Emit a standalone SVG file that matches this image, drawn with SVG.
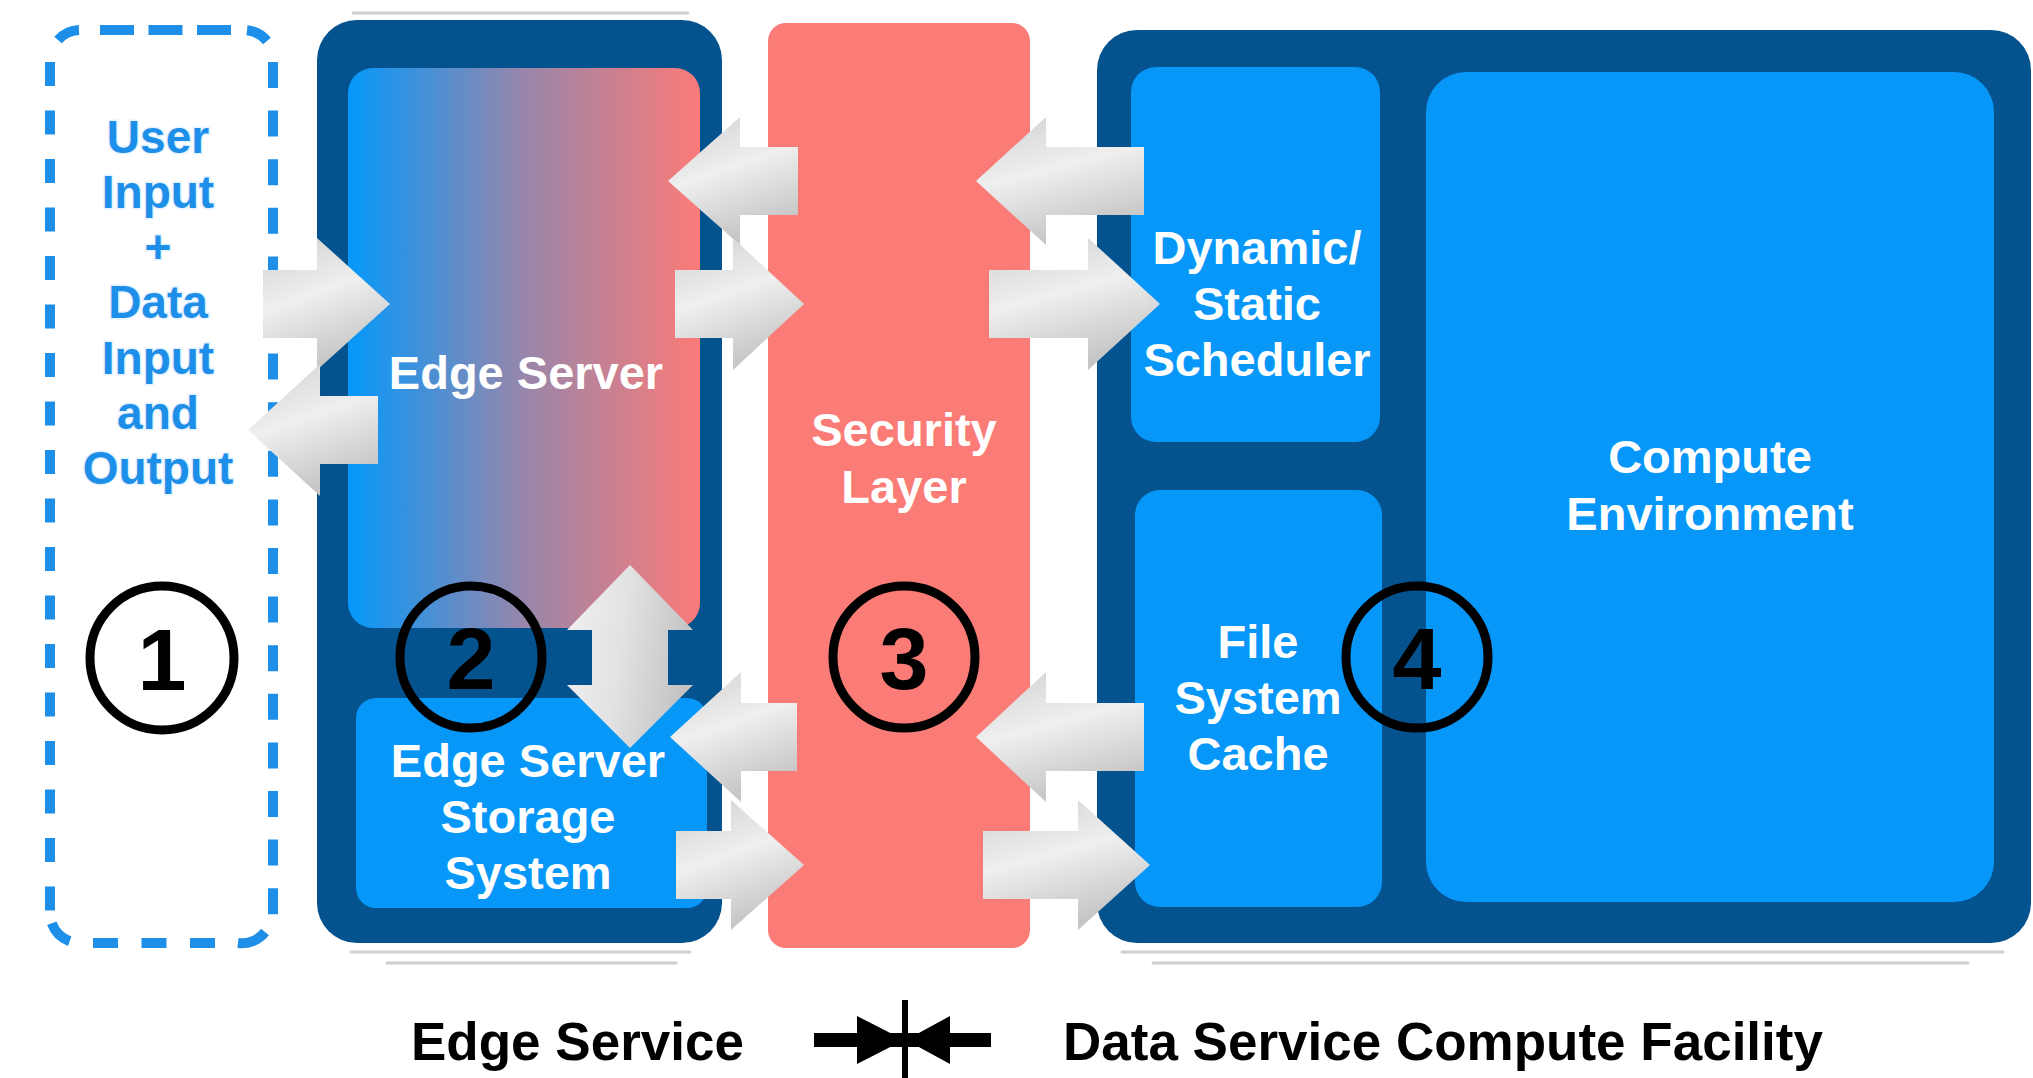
<svg xmlns="http://www.w3.org/2000/svg" width="2033" height="1078" viewBox="0 0 2033 1078">
<defs>
<linearGradient id="gEdge" x1="0" y1="0" x2="1" y2="0">
<stop offset="0" stop-color="#0598fa"/>
<stop offset="0.5" stop-color="#9886aa"/>
<stop offset="1" stop-color="#fb7b78"/>
</linearGradient>
<linearGradient id="gArrow" x1="0" y1="0" x2="0.35" y2="1">
<stop offset="0" stop-color="#d0d0d0"/>
<stop offset="0.5" stop-color="#efefef"/>
<stop offset="1" stop-color="#c6c6c6"/>
</linearGradient>
<linearGradient id="gArrowV" x1="0" y1="0" x2="1" y2="0.2">
<stop offset="0" stop-color="#f2f2f2"/>
<stop offset="0.5" stop-color="#e2e2e2"/>
<stop offset="1" stop-color="#c4c4c4"/>
</linearGradient>
<style>
.dark{fill:#04528e}
.blue{fill:#0797f8}
.wt{font-family:"Liberation Sans",Arial,sans-serif;font-weight:bold;font-size:47px;fill:#ffffff;text-anchor:middle}
.bt{font-family:"Liberation Sans",Arial,sans-serif;font-weight:bold;font-size:46px;fill:#1e8fe8;text-anchor:middle;stroke:#e6f3ff;stroke-width:3;paint-order:stroke}
.num{font-family:"Liberation Sans",Arial,sans-serif;font-weight:bold;font-size:88px;fill:#000000;text-anchor:middle}
.ring{fill:none;stroke:#000000;stroke-width:9}
.dash{fill:none;stroke:#1e8fe8;stroke-width:10}
.arrow{fill:url(#gArrow)}
.shadow{fill:none;stroke:#cfcfcf;stroke-width:3;stroke-linecap:round}
.legend{font-family:"Liberation Sans",Arial,sans-serif;font-weight:bold;font-size:53px;fill:#000000}
</style>
</defs>
<rect width="2033" height="1078" fill="#ffffff"/>

<g id="shadows">
<line class="shadow" x1="353" y1="13" x2="688" y2="13"/>
<line class="shadow" x1="351" y1="952" x2="690" y2="952"/>
<line class="shadow" x1="387" y1="963" x2="676" y2="963"/>
<line class="shadow" x1="1122" y1="952" x2="2003" y2="952"/>
<line class="shadow" x1="1153" y1="963" x2="1968" y2="963"/>
</g>

<g id="input-output">
<g>
<line class="dash" x1="100" y1="30" x2="232" y2="30" stroke-dasharray="34 14.5"/>
<line class="dash" x1="93" y1="943" x2="218" y2="943" stroke-dasharray="25 23.5"/>
<line class="dash" x1="50" y1="62" x2="50" y2="915" stroke-dasharray="24 24.5"/>
<line class="dash" x1="273" y1="62" x2="273" y2="920" stroke-dasharray="26 22.6"/>
<path class="dash" d="M58,40 A30,30 0 0 1 79,30"/>
<path class="dash" d="M247,30.3 A30,30 0 0 1 267,41"/>
<path class="dash" d="M51.8,923.3 A30,30 0 0 0 69.7,941.2"/>
<path class="dash" d="M238,943 A30,30 0 0 0 265,932"/>
</g>
<text class="bt" x="158" y="153">User</text>
<text class="bt" x="158" y="208">Input</text>
<text class="bt" x="158" y="263">+</text>
<text class="bt" x="158" y="318">Data</text>
<text class="bt" x="158" y="374">Input</text>
<text class="bt" x="158" y="429">and</text>
<text class="bt" x="158" y="484">Output</text>
</g>

<g id="edge-service">
<rect class="dark" x="317" y="20" width="405" height="923" rx="40"/>
</g>
<g id="edge-server">
<rect x="348" y="68" width="352" height="560" rx="25" fill="url(#gEdge)"/>
<text class="wt" x="526" y="389">Edge Server</text>
</g>
<g id="edge-storage">
<rect class="blue" x="356" y="698" width="351" height="210" rx="20"/>
<text class="wt" x="528" y="777">Edge Server</text>
<text class="wt" x="528" y="833">Storage</text>
<text class="wt" x="528" y="889">System</text>
</g>

<g id="security-layer">
<rect x="768" y="23" width="262" height="925" rx="18" fill="#fb7b76"/>
<text class="wt" x="904" y="446">Security</text>
<text class="wt" x="904" y="503">Layer</text>
</g>

<g id="data-service">
<rect class="dark" x="1097" y="30" width="934" height="913" rx="40"/>
</g>
<g id="scheduler">
<rect class="blue" x="1131" y="67" width="249" height="375" rx="25"/>
<text class="wt" x="1257" y="264">Dynamic/</text>
<text class="wt" x="1257" y="320">Static</text>
<text class="wt" x="1257" y="376">Scheduler</text>
</g>
<g id="file-cache">
<rect class="blue" x="1135" y="490" width="247" height="417" rx="25"/>
<text class="wt" x="1258" y="658">File</text>
<text class="wt" x="1258" y="714">System</text>
<text class="wt" x="1258" y="770">Cache</text>
</g>
<g id="compute-env">
<rect class="blue" x="1426" y="72" width="568" height="830" rx="40"/>
<text class="wt" x="1710" y="473">Compute</text>
<text class="wt" x="1710" y="530">Environment</text>
</g>

<g id="connectors">
<path class="arrow" d="M263,270 H317 V238 L390,304 L317,370 V338 H263 Z"/>
<path class="arrow" d="M378,396 H320 V364 L248,430 L320,496 V464 H378 Z"/>
<path class="arrow" d="M798,147 H740 V117 L668,181 L740,245 V215 H798 Z"/>
<path class="arrow" d="M675,270 H733 V238 L804,304 L733,370 V338 H675 Z"/>
<path class="arrow" d="M1144,147 H1046 V117 L976,181 L1046,245 V215 H1144 Z"/>
<path class="arrow" d="M989,270 H1088 V238 L1160,304 L1088,370 V338 H989 Z"/>
<path fill="url(#gArrowV)" d="M630,565 L693,630 H668 V685 H693 L630,748 L567,685 H592 V630 H567 Z"/>
<path class="arrow" d="M797,703 H741 V672 L670,737 L741,802 V771 H797 Z"/>
<path class="arrow" d="M676,831 H731 V800 L804,865 L731,930 V899 H676 Z"/>
<path class="arrow" d="M1144,703 H1046 V672 L976,737 L1046,802 V771 H1144 Z"/>
<path class="arrow" d="M983,831 H1078 V800 L1150,865 L1078,930 V899 H983 Z"/>
</g>

<g id="markers">
<circle class="ring" cx="162" cy="658" r="72"/>
<text class="num" x="162" y="690">1</text>
<circle class="ring" cx="471" cy="657" r="71"/>
<text class="num" x="471" y="689">2</text>
<circle class="ring" cx="904" cy="657" r="71"/>
<text class="num" x="904" y="689">3</text>
<circle class="ring" cx="1417" cy="657" r="71"/>
<text class="num" x="1417" y="689">4</text>
</g>

<g id="legend">
<text class="legend" x="411" y="1060">Edge Service</text>
<rect x="814" y="1033" width="177" height="14" fill="#000000"/>
<path d="M857,1016 L904,1040 L857,1064 Z" fill="#000000"/>
<path d="M950,1016 L906,1040 L950,1064 Z" fill="#000000"/>
<rect x="902" y="1000" width="6" height="78" fill="#000000"/>
<text class="legend" x="1063" y="1060">Data Service Compute Facility</text>
</g>
</svg>
